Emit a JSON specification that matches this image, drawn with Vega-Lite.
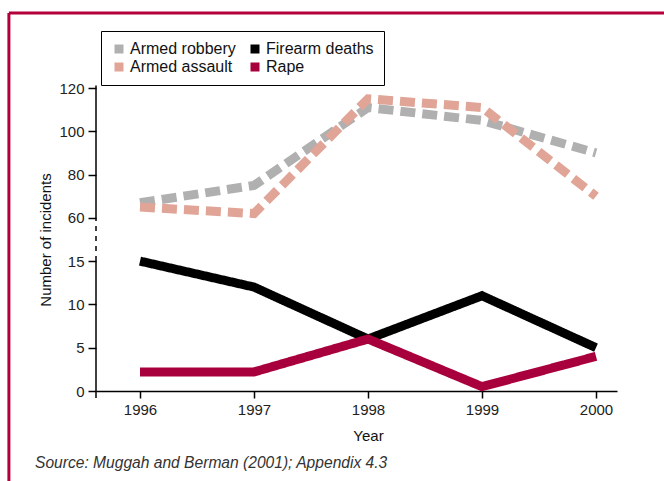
{
  "$schema": "https://vega.github.io/schema/vega-lite/v6.json",
  "width": 521,
  "height": 303,
  "autosize": {"type": "none"},
  "padding": {"left": 96, "top": 88, "right": 47, "bottom": 90},
  "background": "white",
  "config": {"view": {"stroke": null}, "font": "Liberation Sans"},
  "datasets": {
    "incidents": [
      {"year": 1996, "series": "Armed robbery", "value": 67},
      {"year": 1997, "series": "Armed robbery", "value": 75},
      {"year": 1998, "series": "Armed robbery", "value": 111},
      {"year": 1999, "series": "Armed robbery", "value": 105},
      {"year": 2000, "series": "Armed robbery", "value": 90},
      {"year": 1996, "series": "Armed assault", "value": 65},
      {"year": 1997, "series": "Armed assault", "value": 62},
      {"year": 1998, "series": "Armed assault", "value": 115},
      {"year": 1999, "series": "Armed assault", "value": 111},
      {"year": 2000, "series": "Armed assault", "value": 70},
      {"year": 1996, "series": "Firearm deaths", "value": 15},
      {"year": 1997, "series": "Firearm deaths", "value": 12},
      {"year": 1998, "series": "Firearm deaths", "value": 6},
      {"year": 1999, "series": "Firearm deaths", "value": 11},
      {"year": 2000, "series": "Firearm deaths", "value": 5},
      {"year": 1996, "series": "Rape", "value": 2.2},
      {"year": 1997, "series": "Rape", "value": 2.2},
      {"year": 1998, "series": "Rape", "value": 6},
      {"year": 1999, "series": "Rape", "value": 0.5},
      {"year": 2000, "series": "Rape", "value": 4}
    ]
  },
  "layer": [
    {
      "data": {"name": "incidents"},
      "mark": {"type": "line", "strokeWidth": 9, "strokeCap": "butt", "strokeJoin": "miter"},
      "encoding": {
        "x": {
          "field": "year",
          "type": "quantitative",
          "scale": {"domain": [1995.614, 2000.184], "nice": false, "zero": false},
          "axis": {
            "values": [1996, 1997, 1998, 1999, 2000],
            "format": "d",
            "title": "Year",
            "grid": false,
            "tickSize": 7,
            "labelPadding": 4,
            "labelFontSize": 15,
            "labelColor": "#222222",
            "titleFontSize": 15,
            "titleFontWeight": "normal",
            "titleColor": "#111111",
            "titleX": 272,
            "titleY": 44,
            "titleAlign": "center",
            "titleBaseline": "middle",
            "domainColor": "#000000",
            "tickColor": "#000000",
            "domainWidth": 1.5,
            "tickWidth": 1.5
          }
        },
        "y": {
          "field": "value",
          "type": "quantitative",
          "scale": {"domain": [0, 15, 60, 120], "range": [303, 173.1, 129.9, 0], "nice": false, "zero": false},
          "axis": {
            "values": [0, 5, 10, 15, 60, 80, 100, 120],
            "title": "Number of incidents",
            "grid": false,
            "domain": false,
            "tickSize": 8,
            "labelPadding": 4,
            "labelFontSize": 15,
            "labelColor": "#222222",
            "titleFontSize": 15,
            "titleFontWeight": "normal",
            "titleColor": "#111111",
            "titlePadding": 5,
            "tickColor": "#000000",
            "tickWidth": 1.5
          }
        },
        "color": {
          "field": "series",
          "type": "nominal",
          "scale": {
            "domain": ["Armed robbery", "Armed assault", "Firearm deaths", "Rape"],
            "range": ["#b0b0b0", "#e0a597", "#000000", "#a8003c"]
          },
          "legend": {
            "orient": "none",
            "legendX": 5,
            "legendY": -57,
            "title": null,
            "columns": 2,
            "symbolType": "square",
            "symbolSize": 81,
            "symbolStrokeWidth": 0,
            "labelFontSize": 16,
            "labelColor": "#111111",
            "labelOffset": 3,
            "columnPadding": 11,
            "rowPadding": 2,
            "padding": 10,
            "strokeColor": "#000000",
            "fillColor": "#ffffff",
            "encode": {
              "symbols": {
                "update": {
                  "fill": {"scale": "color", "field": "value"},
                  "strokeWidth": {"value": 0}
                }
              }
            }
          }
        },
        "strokeDash": {
          "field": "series",
          "type": "nominal",
          "scale": {
            "domain": ["Armed robbery", "Armed assault", "Firearm deaths", "Rape"],
            "range": [[15, 7], [15, 7], [1, 0], [1, 0]]
          },
          "legend": null
        }
      }
    },
    {
      "data": {"values": [{}]},
      "mark": {"type": "rule", "color": "#000000", "strokeWidth": 1.5},
      "encoding": {"x": {"datum": 1995.614}, "y": {"datum": -0.8}, "y2": {"datum": 15}}
    },
    {
      "data": {"values": [{}]},
      "mark": {"type": "rule", "color": "#000000", "strokeWidth": 1.5, "strokeDash": [5, 5]},
      "encoding": {"x": {"datum": 1995.614}, "y": {"datum": 15}, "y2": {"datum": 60}}
    },
    {
      "data": {"values": [{}]},
      "mark": {"type": "rule", "color": "#000000", "strokeWidth": 1.5},
      "encoding": {"x": {"datum": 1995.614}, "y": {"datum": 60}, "y2": {"datum": 121.2}}
    },
    {
      "data": {"values": [{}]},
      "mark": {"type": "rule", "color": "#b3003b", "strokeWidth": 3},
      "encoding": {"x": {"datum": 1994.85}, "x2": {"datum": 2001}, "y": {"datum": 154.6}}
    },
    {
      "data": {"values": [{}]},
      "mark": {"type": "rule", "color": "#b3003b", "strokeWidth": 3},
      "encoding": {"x": {"datum": 1994.85}, "y": {"datum": 154.6}, "y2": {"datum": -12}}
    },
    {
      "data": {"values": [{}]},
      "mark": {"type": "text", "align": "left", "baseline": "middle", "fontSize": 15.6, "fontStyle": "italic", "color": "#333333"},
      "encoding": {
        "x": {"datum": 1995.079},
        "y": {"datum": -8.3},
        "text": {"value": "Source: Muggah and Berman (2001); Appendix 4.3"}
      }
    }
  ]
}
